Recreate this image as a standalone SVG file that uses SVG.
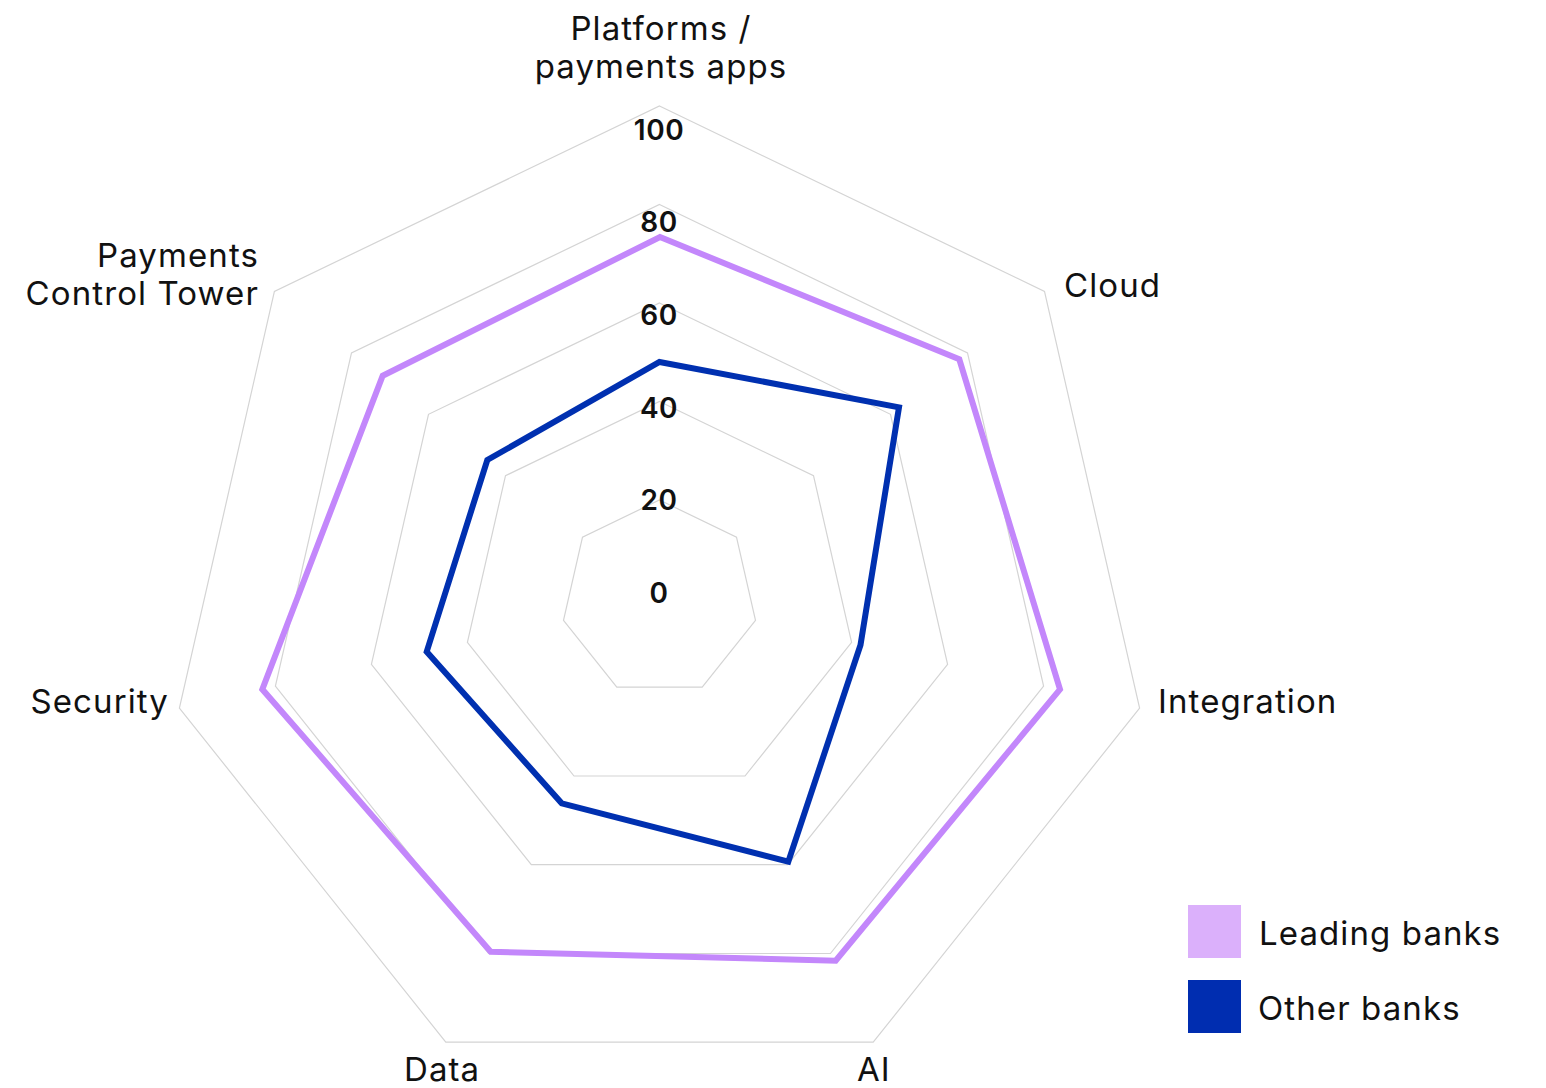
<svg xmlns="http://www.w3.org/2000/svg" width="1546" height="1088" viewBox="0 0 1546 1088">
<style>
.grid{fill:none;stroke:#d4d4d4;stroke-width:1.2}
.lead{fill:none;stroke:#c387fb;stroke-width:6;stroke-linejoin:miter}
.other{fill:none;stroke:#0030b0;stroke-width:6;stroke-linejoin:miter}
.ax{font-family:Inter,"Liberation Sans",sans-serif;font-size:33px;fill:#111;letter-spacing:1.1px}
.num{font-family:Inter,"Liberation Sans",sans-serif;font-size:28px;font-weight:600;fill:#111;text-anchor:middle;letter-spacing:0.5px}
</style>
<rect width="1546" height="1088" fill="#fff"/>
<g id="grid">
<polygon class="grid" points="659.5,500 736.5,537.1 755.5,620.4 702.2,687.2 616.8,687.2 563.5,620.4 582.5,537.1"/>
<polygon class="grid" points="659.5,401.5 813.5,475.7 851.6,642.3 745,776 574,776 467.4,642.3 505.5,475.7"/>
<polygon class="grid" points="659.5,303 890.5,414.3 947.6,664.3 787.7,864.7 531.3,864.7 371.4,664.3 428.5,414.3"/>
<polygon class="grid" points="659.5,204.5 967.5,352.9 1043.6,686.2 830.4,953.5 488.6,953.5 275.4,686.2 351.5,352.9"/>
<polygon class="grid" points="659.5,106 1044.5,291.4 1139.6,708.1 873.2,1042.2 445.8,1042.2 179.4,708.1 274.4,291.4"/>
</g>
<g id="series">
<polygon id="leading" class="lead" points="660,237 959.3,359.3 1060,689.3 835.7,960.7 490.7,951.7 262.3,689.3 382.7,375.7"/>
<polygon id="other" class="other" points="659.5,362 899,407.3 860.5,645 788.3,861.7 561.7,803.3 426.7,651.7 487.3,460"/>
</g>
<g id="scale">
<text class="num" x="659" y="603">0</text>
<text class="num" x="659" y="510">20</text>
<text class="num" x="659" y="418">40</text>
<text class="num" x="659" y="325">60</text>
<text class="num" x="659" y="232">80</text>
<text class="num" x="659" y="140">100</text>
</g>
<g id="labels">
<g id="axis-platforms"><text class="ax" x="661" y="40" text-anchor="middle">Platforms /</text><text class="ax" x="661" y="78" text-anchor="middle">payments apps</text></g>
<g id="axis-cloud"><text class="ax" x="1064" y="297">Cloud</text></g>
<g id="axis-integration"><text class="ax" x="1158" y="713">Integration</text></g>
<g id="axis-ai"><text class="ax" x="857" y="1081">AI</text></g>
<g id="axis-data"><text class="ax" x="404" y="1081">Data</text></g>
<g id="axis-security"><text class="ax" x="169" y="713" text-anchor="end">Security</text></g>
<g id="axis-pct"><text class="ax" x="259" y="267" text-anchor="end">Payments</text><text class="ax" x="259" y="305" text-anchor="end">Control Tower</text></g>
</g>
<g id="legend">
<g id="legend-leading"><rect x="1188" y="905" width="53" height="53" fill="#dbb0fb"/><text class="ax" x="1259" y="945">Leading banks</text></g>
<g id="legend-other"><rect x="1188" y="980" width="53" height="53" fill="#002db0"/><text class="ax" x="1258" y="1020">Other banks</text></g>
</g>
</svg>
